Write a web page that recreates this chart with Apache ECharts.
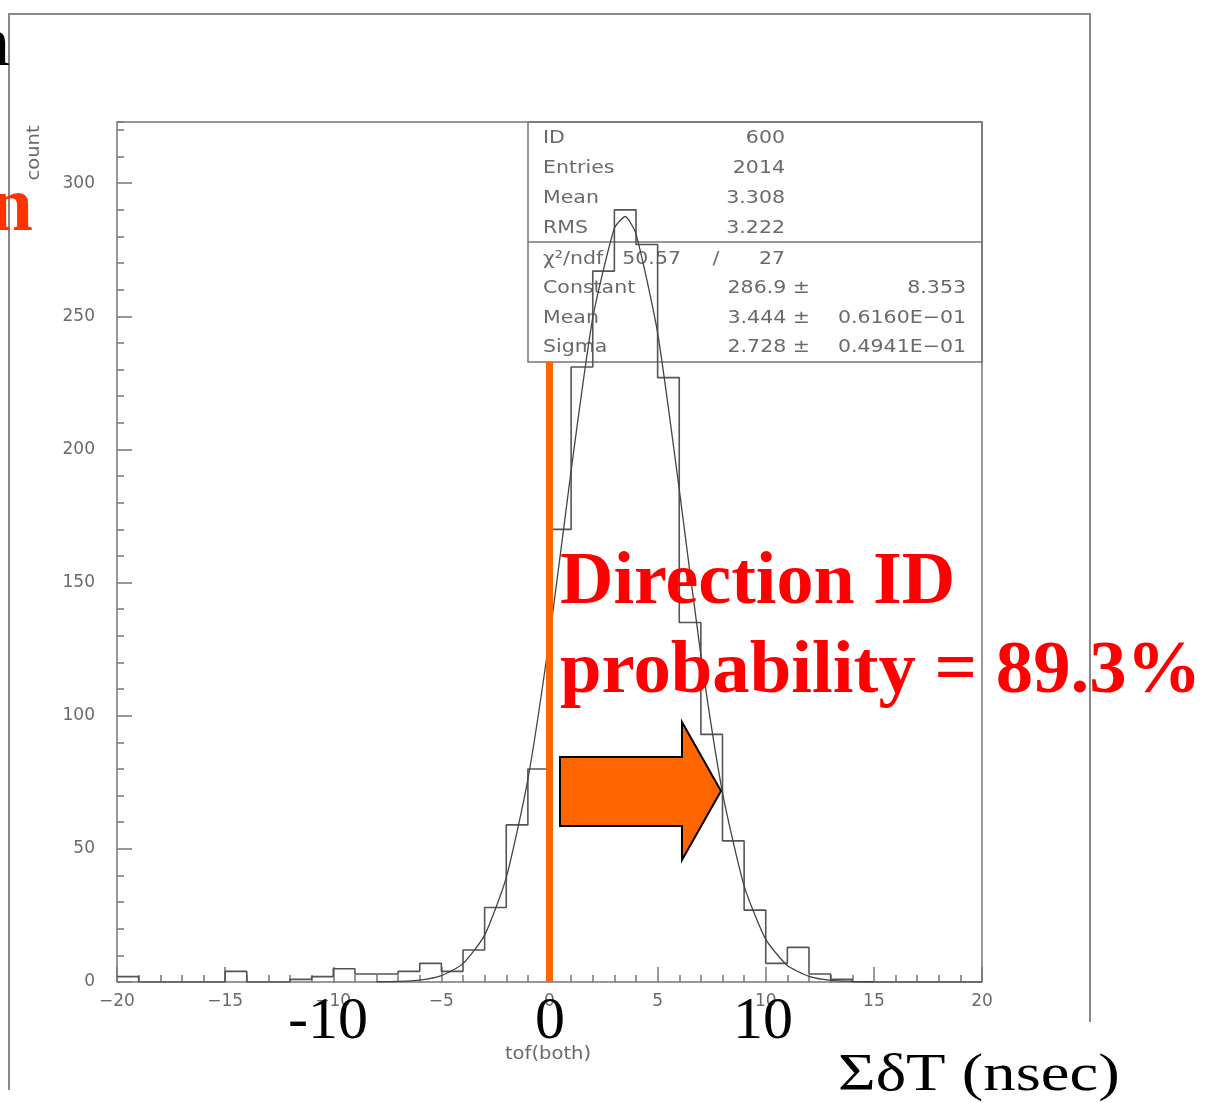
<!DOCTYPE html>
<html>
<head>
<meta charset="utf-8">
<script src="https://cdn.jsdelivr.net/npm/echarts@6/dist/echarts.min.js"></script>
<style>
  html, body { margin: 0; padding: 0; background: #fff; }
  #chart { width: 1205px; height: 1103px; }
</style>
</head>
<body>
<div id="chart"></div>
<script>
// histogram of tof(both): bins of 1 ns starting at -20
const binStart = -20;
const binWidth = 1;
const counts = [
  2, 0, 0, 0, 0, 4, 0, 0, 1, 2,
  5, 3, 3, 4, 7, 4, 12, 28, 59, 80,
  170, 231, 267, 290, 277, 227, 135, 93, 53, 27,
  7, 13, 3, 1, 0, 0, 0, 0, 0, 0
];

// fitted gaussian as drawn on the plot
const fitX = [-8, -7, -6, -5, -4, -3, -2, -1, 0, 1, 2, 3, 3.5, 4, 5, 6, 7, 8, 9, 10, 11, 12, 13, 14, 15];
const fitY = [0.1, 0.2, 0.7, 2.4, 6.9, 17.6, 39.2, 76.1, 129.3, 192.1, 249.4, 283.1, 287.5, 281.0, 243.8, 185.0, 122.7, 71.1, 36.1, 16.0, 6.2, 2.1, 0.6, 0.2, 0.05];

// stats box
const statNames = ['ID', 'Entries', 'Mean', 'RMS'];
const statValues = ['600', '2014', '3.308', '3.222'];
const fitNames = ['\u03c7\u00b2/ndf', 'Constant', 'Mean', 'Sigma'];
const fitValues = ['50.57', '286.9', '3.444', '2.728'];
const fitErrors = ['27', '8.353', '0.6160E\u221201', '0.4941E\u221201'];

// orange cut line at 0
const cutX = 0;
const cutTop = 233;

const overlayTicks = ['-10', '0', '10'];

const chart = echarts.init(document.getElementById('chart'));

const histData = counts.map((c, i) => [binStart + i * binWidth, c]);
histData.push([binStart + counts.length * binWidth, counts[counts.length - 1]]);
const fitData = fitX.map((x, i) => [x, fitY[i]]);

const gray = '#6a6a6a';
const pawFont = 'DejaVu Sans';
const minus = v => (v < 0 ? '\u2212' + (-v) : String(v));

// small helper for graphic texts, anchored at (x, y)
function txt(text, x, y, font, fill, align, opts) {
  return Object.assign({
    type: 'text', z: 1, x: x, y: y,
    style: { text: text, x: 0, y: 0, fill: fill, font: font, textAlign: align || 'left', textVerticalAlign: 'middle' }
  }, opts || {});
}

const boxFont = '18px ' + pawFont;
const boxScale = { scaleX: 1.14 };
const boxText = [];
const rowY1 = [138, 168, 198, 228];
const rowY2 = [259, 288, 318, 347];
statNames.forEach((n, i) => {
  boxText.push(txt(n, 543, rowY1[i], boxFont, gray, 'left', boxScale));
  boxText.push(txt(statValues[i], 785, rowY1[i], boxFont, gray, 'right', boxScale));
});
fitNames.forEach((n, i) => {
  boxText.push(txt(n, 543, rowY2[i], boxFont, gray, 'left', boxScale));
  if (i === 0) {
    boxText.push(txt(fitValues[i], 681, rowY2[i], boxFont, gray, 'right', boxScale));
    boxText.push(txt('/', 716, rowY2[i], boxFont, gray, 'center', boxScale));
    boxText.push(txt(fitErrors[i], 785, rowY2[i], boxFont, gray, 'right', boxScale));
  } else {
    boxText.push(txt(fitValues[i] + ' \u00b1', 810, rowY2[i], boxFont, gray, 'right', boxScale));
    boxText.push(txt(fitErrors[i], 966, rowY2[i], boxFont, gray, 'right', boxScale));
  }
});

const overlayX = [328, 550, 763];
const tickStyle = len => ({ show: true, inside: true, length: len, lineStyle: { color: '#777', width: 1.5 } });

chart.setOption({
  animation: false,
  backgroundColor: '#fff',
  grid: {
    left: 117, top: 122, width: 865, height: 860,
    show: true, borderColor: '#777', borderWidth: 1.5, backgroundColor: 'transparent'
  },
  xAxis: [
    {
      type: 'value', min: -20, max: 20, interval: 1, position: 'bottom',
      axisLine: { show: false, onZero: false },
      axisTick: tickStyle(7),
      axisLabel: { show: false },
      splitLine: { show: false }
    },
    {
      type: 'value', min: -20, max: 20, interval: 5, position: 'bottom',
      axisLine: { show: false, onZero: false },
      axisTick: tickStyle(15),
      axisLabel: { color: gray, fontSize: 17, fontFamily: pawFont, margin: 11, formatter: minus },
      splitLine: { show: false }
    }
  ],
  yAxis: [
    {
      type: 'value', min: 0, max: 323, interval: 10, position: 'left',
      axisLine: { show: false, onZero: false },
      axisTick: tickStyle(7),
      axisLabel: { show: false },
      splitLine: { show: false }
    },
    {
      type: 'value', min: 0, max: 323, interval: 50, position: 'left',
      axisLine: { show: false, onZero: false },
      axisTick: tickStyle(15),
      axisLabel: { color: gray, fontSize: 17, fontFamily: pawFont, margin: 22, showMaxLabel: false },
      splitLine: { show: false }
    }
  ],
  series: [
    {
      type: 'line', data: histData, step: 'end', showSymbol: false, z: 3,
      lineStyle: { color: '#555', width: 1.6 }
    },
    {
      type: 'line', data: fitData, smooth: 0.2, showSymbol: false, z: 4,
      lineStyle: { color: '#444', width: 1.3 }
    },
    {
      type: 'line', data: [[cutX, 0], [cutX, cutTop]], showSymbol: false, z: 5, clip: false,
      lineStyle: { color: '#ff6600', width: 7 }
    }
  ],
  graphic: {
    elements: [
      // outer picture frame
      { type: 'polyline', z: 0, shape: { points: [[9, 1090], [9, 14], [1090, 14], [1090, 1022]] },
        style: { stroke: '#888', lineWidth: 2, fill: null } },
      // stats box
      { type: 'rect', z: 1, shape: { x: 528, y: 122, width: 454, height: 240 },
        style: { stroke: '#777', lineWidth: 1.5, fill: null } },
      { type: 'line', z: 1, shape: { x1: 528, y1: 242, x2: 982, y2: 242 },
        style: { stroke: '#777', lineWidth: 1.5 } },
      ...boxText,
      // axis titles
      txt('count', 35, 153, '17px ' + pawFont, gray, 'center', { rotation: Math.PI / 2, scaleX: 1.15 }),
      txt('tof(both)', 548, 1055, '17px ' + pawFont, gray, 'center', { scaleX: 1.15 }),
      // cropped slide letters on the left
      txt('n', 10, 47, '69px "Liberation Serif"', '#000', 'right', { z: 10 }),
      txt('n', 33, 210, 'bold 78px "Liberation Serif"', '#ff3300', 'right', { z: 10 }),
      // annotation
      txt('Direction ID', 560, 584, 'bold 74px "Liberation Serif"', '#ff0000', 'left', { z: 10 }),
      txt('probability = 89.3%', 560, 673, 'bold 74px "Liberation Serif"', '#ff0000', 'left', { z: 10, scaleX: 1.01 }),
      { type: 'polygon', z: 10,
        shape: { points: [[560, 757], [682, 757], [682, 722], [721, 791], [682, 860], [682, 826], [560, 826]] },
        style: { fill: '#ff6600', stroke: '#000', lineWidth: 2 } },
      ...overlayTicks.map((t, i) => txt(t, overlayX[i], 1022, '60px "Liberation Serif"', '#000', 'center', { z: 10 })),
      txt('\u03a3\u03b4T (nsec)', 838, 1076, '53px "Liberation Serif"', '#000', 'left', { z: 10, scaleX: 1.22 })
    ]
  }
});
</script>
</body>
</html>
